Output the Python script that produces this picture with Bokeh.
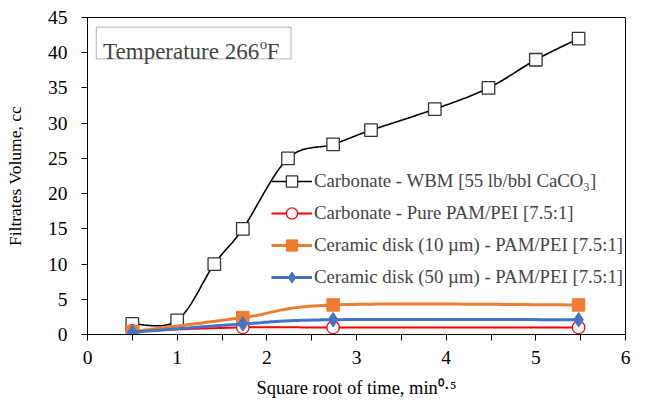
import numpy as np
from bokeh.plotting import figure
from bokeh.models import (FixedTicker, Legend, LegendItem, Label, BoxAnnotation, Range1d)
from bokeh.embed import file_html
from bokeh.resources import INLINE

# ---------------- data ----------------
x_wbm = [0.5, 1.0, 1.414, 1.732, 2.236, 2.739, 3.162, 3.873, 4.472, 5.0, 5.477]
y_wbm = [1.5, 2.0, 10.0, 15.0, 25.0, 27.0, 29.0, 32.0, 35.0, 39.0, 42.0]

x_ser = [0.5, 1.732, 2.739, 5.477]
y_pure = [0.5, 1.0, 1.0, 1.0]
y_10um = [0.4, 2.4, 4.2, 4.2]
y_50um = [0.3, 1.5, 2.1, 2.1]

labels = ["Carbonate - WBM [55 lb/bbl CaCO\u2083]",
          "Carbonate - Pure PAM/PEI [7.5:1]",
          "Ceramic disk (10 \u00b5m) - PAM/PEI [7.5:1]",
          "Ceramic disk (50 \u00b5m) - PAM/PEI [7.5:1]"]

x_ticks = [0, 1, 2, 3, 4, 5, 6]
x_minor = [0.5, 1.5, 2.5, 3.5, 4.5, 5.5]
y_ticks = [0, 5, 10, 15, 20, 25, 30, 35, 40, 45]

FONT = "Liberation Serif"


def smooth(xs, ys, n=30):
    """Excel-like smoothed line (cubic Bezier through the points)."""
    P = np.column_stack([xs, ys]).astype(float)
    outx, outy = [], []
    for i in range(len(P) - 1):
        p0 = P[i - 1] if i > 0 else P[i]
        p1, p2 = P[i], P[i + 1]
        p3 = P[i + 2] if i + 2 < len(P) else P[i + 1]
        c1 = p1 + (p2 - p0) / 6.0
        c2 = p2 - (p3 - p1) / 6.0
        t = np.linspace(0, 1, n)[:, None]
        b = ((1 - t) ** 3) * p1 + 3 * ((1 - t) ** 2) * t * c1 + 3 * (1 - t) * t ** 2 * c2 + t ** 3 * p2
        if i > 0:
            b = b[1:]
        outx.extend(b[:, 0]); outy.extend(b[:, 1])
    return outx, outy


p = figure(width=631, height=400, output_backend="svg", toolbar_location=None,
           x_range=Range1d(0, 6), y_range=Range1d(0, 45),
           min_border_left=87, min_border_right=6, min_border_top=17, min_border_bottom=66)

p.xgrid.visible = False
p.ygrid.visible = False
p.outline_line_color = "black"
p.outline_line_width = 1
p.background_fill_color = "white"
p.border_fill_color = "white"

# axes
p.xaxis.ticker = FixedTicker(ticks=x_ticks, minor_ticks=x_minor)
p.yaxis.ticker = FixedTicker(ticks=y_ticks)
for ax in (p.xaxis[0], p.yaxis[0]):
    ax.axis_line_color = "black"
    ax.major_tick_line_color = "black"
    ax.major_tick_in = 0
    ax.major_tick_out = 6
    ax.minor_tick_in = 0
    ax.minor_tick_out = 6
    ax.minor_tick_line_color = "black"
    ax.major_label_text_font = FONT
    ax.major_label_text_font_size = "19.5px"
    ax.major_label_text_color = "black"
    ax.axis_label_text_font = FONT
    ax.axis_label_text_font_style = "normal"
    ax.axis_label_text_color = "black"
p.yaxis.minor_tick_line_color = None
p.xaxis.major_label_standoff = 10
p.yaxis.major_label_standoff = 14
p.yaxis.axis_label = "Filtrates Volume, cc"
p.yaxis.axis_label_text_font_size = "17.5px"
p.yaxis.axis_label_standoff = 20
p.xaxis.axis_label = "Square root of time, min\u2070\u00b7\u2075"
p.xaxis.axis_label_text_font_size = "18.5px"
p.xaxis.axis_label_standoff = 11

# series
sx, sy = smooth(x_wbm, y_wbm)
l1 = p.line(sx, sy, line_color="black", line_width=1.6)
m1 = p.scatter(x_wbm, y_wbm, marker="square", size=12.5, fill_color="white",
               line_color="#333333", line_width=1.3)

sx, sy = smooth(x_ser, y_pure)
l2 = p.line(sx, sy, line_color="#FF0000", line_width=2)
m2 = p.scatter(x_ser, y_pure, marker="circle", size=12.5, fill_color="white",
               line_color="#FF0000", line_width=1.3)

sx, sy = smooth(x_ser, y_10um)
l3 = p.line(sx, sy, line_color="#ED7D31", line_width=3)
m3 = p.scatter(x_ser, y_10um, marker="square", size=12.5, fill_color="#ED7D31",
               line_color="#ED7D31")

sx, sy = smooth(x_ser, y_50um)
l4 = p.line(sx, sy, line_color="#4472C4", line_width=3)
m4 = p.scatter(x_ser, y_50um, marker="diamond", size=14.5, fill_color="#4472C4",
               line_color="#4472C4")

legend = Legend(items=[LegendItem(label=labels[0], renderers=[l1, m1]),
                       LegendItem(label=labels[1], renderers=[l2, m2]),
                       LegendItem(label=labels[2], renderers=[l3, m3]),
                       LegendItem(label=labels[3], renderers=[l4, m4])],
                location=(184, 43), padding=0, margin=0, spacing=4,
                glyph_width=41, glyph_height=28, label_standoff=2,
                label_text_font=FONT, label_text_font_size="18.8px",
                label_text_baseline="middle",
                border_line_color=None, background_fill_alpha=0)
p.add_layout(legend, "center")

# temperature box
p.add_layout(BoxAnnotation(left=0.098, right=2.27, bottom=39.12, top=43.63,
                           fill_color="white", fill_alpha=1,
                           line_color="black", line_width=1, level="overlay"))
p.add_layout(Label(x=0.174, y=40.2, text="Temperature 266", text_font=FONT,
                   text_font_size="23px", text_baseline="alphabetic", level="overlay"))
p.add_layout(Label(x=1.92, y=41.2, text="o", text_font=FONT,
                   text_font_size="15px", text_baseline="alphabetic", level="overlay"))
p.add_layout(Label(x=2.0, y=40.2, text="F", text_font=FONT,
                   text_font_size="23px", text_baseline="alphabetic", level="overlay"))

open("out.html", "w").write(file_html(p, INLINE))
